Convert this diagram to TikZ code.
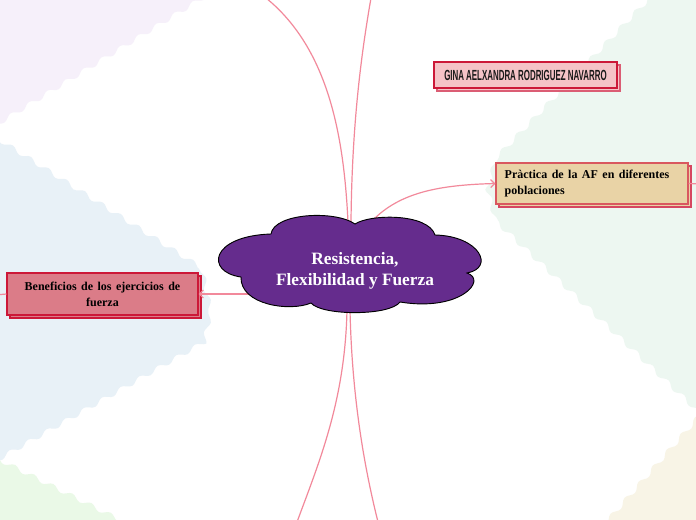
\documentclass[tikz,border=0pt]{standalone}
\usepackage{graphicx}
\usepackage{fontspec}
\setmainfont{Liberation Serif}
\newfontfamily\ginafont{Liberation Sans}
\usetikzlibrary{arrows.meta,shadows,decorations.pathmorphing}
\definecolor{lavbg}{HTML}{F6F0FA}
\definecolor{bluebg}{HTML}{E8F1F7}
\definecolor{greenbg}{HTML}{EDF7F1}
\definecolor{beigebg}{HTML}{F8F4E6}
\definecolor{lgreenbg}{HTML}{EAF9E7}
\definecolor{cloudfill}{HTML}{652C8D}
\definecolor{linkpink}{HTML}{F2899B}
\definecolor{ginafill}{HTML}{F5C3C7}
\definecolor{crimson}{HTML}{CC1838}
\definecolor{tanfill}{HTML}{E9D3A6}
\definecolor{tanborder}{HTML}{D9585F}
\definecolor{rosefill}{HTML}{DB7C88}
\tikzset{
  wavy/.style={decorate,decoration={snake,amplitude=1.8pt,segment length=16pt}},
  link/.style={draw=linkpink,line width=0.9pt},
  linkarrow/.style={link,-{Straight Barb[length=3pt,width=6pt]}},
  topicbox/.style={rectangle,line width=0.8pt,inner sep=0pt},
}
\begin{document}
\begin{tikzpicture}[x=0.75pt,y=-0.75pt]
\useasboundingbox (0,0) rectangle (696,520);
\clip (0,0) rectangle (696,520);
\fill[white] (0,0) rectangle (696,520);
% background regions
\fill[lavbg,wavy] (-30,141) -- (230,-19) -- (-30,-30) -- cycle;
\fill[bluebg,wavy] (-30,121) -- (200,267) -- (207,300) -- (200,333) -- (-30,464) -- cycle;
\fill[greenbg,wavy] (663,-16) -- (497,157) -- (490,185) -- (497,213) -- (730,432) -- (730,-16) -- cycle;
\fill[beigebg,wavy] (722,390) -- (582,550) -- (730,550) -- cycle;
\fill[lgreenbg,wavy] (-30,445) -- (150,535) -- (-30,535) -- cycle;

% coordinates on the cloud and free ends
\coordinate (ct1) at (348,222);
\coordinate (ct2) at (351,222);
\coordinate (cb1) at (347,310);
\coordinate (cb2) at (350,310);
\coordinate (cr) at (372,221);
\coordinate (cl) at (252,294);
\coordinate (e1) at (266,-2);
\coordinate (e2) at (371,-2);
\coordinate (e3) at (297,522);
\coordinate (e4) at (378,522);
\coordinate (eright) at (702,184);
\coordinate (eleft) at (-5,295);

% boxes
\node[topicbox,fill=ginafill,draw=crimson,minimum width=137.25pt,minimum height=19.5pt,
  copy shadow={shadow xshift=2.25pt,shadow yshift=-2.25pt,draw=crimson!70,fill=ginafill}]
  (gina) at (525.5,75)
  {\ginafont\bfseries\fontsize{11}{12}\selectfont\color{black!90}\scalebox{0.54}[1]{GINA AELXANDRA RODRIGUEZ NAVARRO}};
\node[topicbox,fill=tanfill,draw=tanborder,minimum width=144pt,minimum height=30.75pt,
  text width=131pt,align=left,
  copy shadow={shadow xshift=2.25pt,shadow yshift=-2.25pt,draw=crimson!80,fill=tanfill}]
  (practica) at (592,183.5)
  {\bfseries\fontsize{9}{11.25}\selectfont Pràctica de la AF en diferentes\\poblaciones};
\node[topicbox,fill=rosefill,draw=crimson,minimum width=143.25pt,minimum height=31.5pt,
  text width=135pt,align=center,
  copy shadow={shadow xshift=2.25pt,shadow yshift=-2.25pt,draw=crimson,fill=rosefill}]
  (beneficios) at (102.5,294)
  {\bfseries\fontsize{9}{12}\selectfont Beneficios de los ejercicios de\\fuerza};

% connectors
\draw[link] (ct1) .. controls (344,140) and (330,50) .. (e1);
\draw[link] (ct2) .. controls (352,120) and (362,50) .. (e2);
\draw[link] (cb1) .. controls (345,400) and (320,460) .. (e3);
\draw[link] (cb2) .. controls (352,400) and (365,470) .. (e4);
\draw[linkarrow] (cr) .. controls (400,192) and (440,185) .. (practica.west);
\draw[linkarrow] (cl) -- (beneficios.east);
\draw[link] (practica.east) -- (eright);
\draw[link] (beneficios.west) -- (eleft);

% cloud
\draw[fill=cloudfill,draw=black,line width=0.7pt]
  (241,277) .. controls (205,272) and (210,236) .. (271,234)
  .. controls (274,213) and (335,210) .. (355,224)
  .. controls (370,214) and (428,213) .. (435,235)
  .. controls (480,236) and (495,268) .. (467,273)
  .. controls (488,280) and (460,312) .. (400,302)
  .. controls (390,316) and (322,316) .. (311,303)
  .. controls (290,312) and (240,305) .. cycle;
\node[text=white,align=center,font=\bfseries\fontsize{13}{15.5}\selectfont] (central) at (355,271)
  {Resistencia,\\Flexibilidad y Fuerza};
\end{tikzpicture}
\end{document}
